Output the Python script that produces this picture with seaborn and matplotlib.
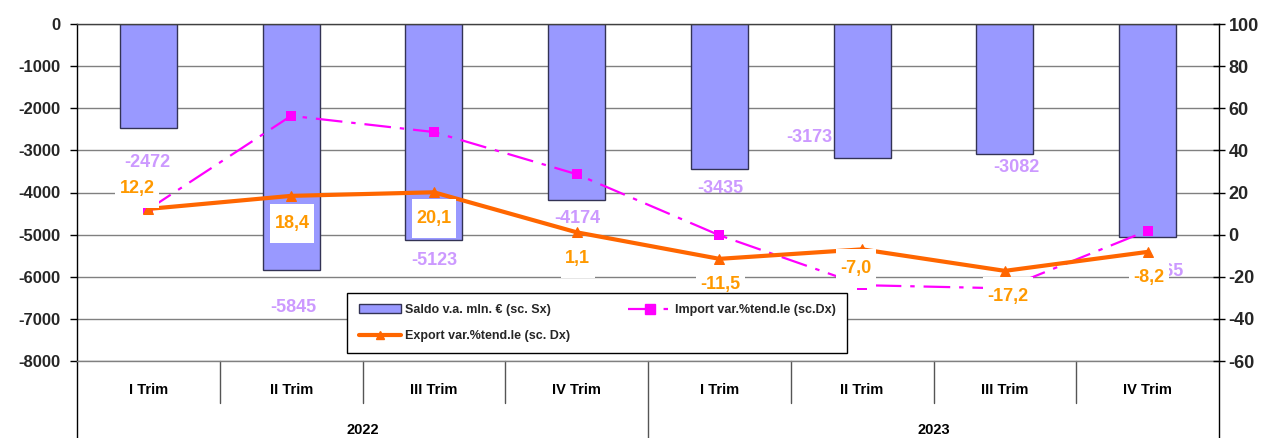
import numpy as np
import pandas as pd
import matplotlib
matplotlib.use("Agg")
import matplotlib.pyplot as plt
import seaborn as sns
from matplotlib.lines import Line2D
from matplotlib.patches import Patch
from matplotlib.path import Path

# ---------------- data ----------------
years = ["2022", "2023"]
quarters = ["I Trim", "II Trim", "III Trim", "IV Trim"]
categories = [f"{y} {q}" for y in years for q in quarters]
saldo = [-2472, -5845, -5123, -4174, -3435, -3173, -3082, -5065]
import_var = [12.0, 56.4, 48.7, 28.7, -0.3, -24.0, -25.5, 1.9]
export_var = [12.2, 18.4, 20.1, 1.1, -11.5, -7.0, -17.2, -8.2]
left_ticks = list(range(0, -8001, -1000))
right_ticks = list(range(100, -61, -20))
legend_labels = ["Saldo v.a. mln. € (sc. Sx)", "Export var.%tend.le (sc. Dx)",
                 "Import var.%tend.le (sc.Dx)"]

# label offsets (pixels: dx right, dy down) -- placement only
saldo_off = [(-1, 34.5), (2, 37), (0, 20.5), (1, 19), (1, 20), (-53, -20), (11, 14), (13, 34)]
export_off = [(-11, -20.5), (1, 27.5), (0, 26), (1, 26), (1, 26), (-6, 19), (3, 26), (1, 26)]

BAR = "#9999FF"
BAR_EDGE = "#333355"
IMP = "#FF00FF"
EXP = "#FF6600"
EXP_LBL = "#FF9900"
SAL_LBL = "#CC99FF"
GRID = "#808080"

sns.set_theme(style="white")
plt.rcParams["font.family"] = ["Liberation Sans", "DejaVu Sans"]
plt.rcParams["font.weight"] = "bold"

W, H = 1269, 438
fig = plt.figure(figsize=(W / 100, H / 100), dpi=100)
L, R, T, B = 77, 1219, 24, 361
ax = fig.add_axes([L / W, (H - B) / H, (R - L) / W, (B - T) / H])

df = pd.DataFrame({"cat": categories, "saldo": saldo})
sns.barplot(data=df, x="cat", y="saldo", order=categories, ax=ax, color=BAR,
            saturation=1, width=0.4, edgecolor=BAR_EDGE, linewidth=1.0, zorder=2)
ax.set_ylim(-8000, 0)
ax.set_xlim(-0.5, len(categories) - 0.5)
ax.set_yticks(left_ticks)
ax.set_yticklabels([str(t) for t in left_ticks], fontsize=12, fontweight="bold")
ax.set_xticks([])
ax.set_xlabel("")
ax.set_ylabel("")
for t in left_ticks:
    ax.axhline(t, color=GRID, lw=1.0, zorder=0)
ax.tick_params(axis="y", direction="out", length=5, width=1, color="black", pad=7,
               left=True)
ax.spines["top"].set_color("#404040")
ax.spines["bottom"].set_color(GRID)
for s in ["left", "right"]:
    ax.spines[s].set_color("black")
for s in ax.spines.values():
    s.set_linewidth(1.0)

ax2 = ax.twinx()
ax2.set_ylim(-60, 100)
ax2.set_yticks(right_ticks)
ax2.set_yticklabels([str(t) for t in right_ticks], fontsize=13, fontweight="bold")
ax2.tick_params(axis="y", direction="inout", length=8, width=1, color="black", pad=3)
for s in ax2.spines.values():
    s.set_visible(False)

pos = np.arange(len(categories))
DASH = (0, (12, 4, 2, 4))

sns.lineplot(x=pos, y=import_var, ax=ax2, sort=False, estimator=None, color=IMP,
             lw=1.6, linestyle=DASH, zorder=3)
sns.scatterplot(x=pos, y=import_var, ax=ax2, marker="s", s=60, color=IMP,
                edgecolor=IMP, linewidth=0, zorder=4)
sns.lineplot(x=pos, y=export_var, ax=ax2, sort=False, estimator=None, color=EXP,
             lw=3, marker="^", markersize=6.5, markeredgecolor=EXP, markerfacecolor=EXP,
             zorder=5)
ax2.set_xlim(-0.5, len(categories) - 0.5)
ax2.set_xticks([])
ax2.set_ylabel("")

# label boxes: taller than wide padding
def tallbox(x0, y0, width, height, mutation_size):
    px = 0.25 * mutation_size
    py = 0.62 * mutation_size
    x0, y0 = x0 - px, y0 - py
    x1, y1 = x0 + width + 2 * px, y0 + height + 2 * py
    return Path([(x0, y0), (x1, y0), (x1, y1), (x0, y1), (x0, y0)],
                [Path.MOVETO, Path.LINETO, Path.LINETO, Path.LINETO, Path.CLOSEPOLY])

k = 72 / 100.0
for i, v in enumerate(saldo):
    dx, dy = saldo_off[i]
    ax2.annotate(str(v), xy=(i, v), xycoords=ax.transData, xytext=(dx * k, -dy * k),
                 textcoords="offset points", ha="center", va="center", fontsize=13,
                 fontweight="bold", color=SAL_LBL, zorder=8, annotation_clip=False)
for i, v in enumerate(export_var):
    dx, dy = export_off[i]
    ax2.annotate(f"{v:.1f}".replace(".", ","), xy=(i, v), xytext=(dx * k, -dy * k),
                 textcoords="offset points", ha="center", va="center", fontsize=13,
                 fontweight="bold", color=EXP_LBL, zorder=9,
                 bbox=dict(boxstyle=tallbox, facecolor="white", edgecolor="none"))

# category axis (two levels)
trans = ax.get_xaxis_transform()
lvl1 = (B - 403) / (B - T)
lvl2 = (B - H) / (B - T)
for i in range(len(categories)):
    ax.text(i, (B - 390) / (B - T), quarters[i % 4], transform=trans, ha="center",
            va="center", fontsize=10.5, fontweight="bold", color="black")
for j, y in enumerate(years):
    ax.text(j * 4 + 1.5, (B - 430) / (B - T), y, transform=trans, ha="center",
            va="center", fontsize=10.5, fontweight="bold", color="black")
for i in range(len(categories) + 1):
    xb = i - 0.5
    if i % 4 == 0:
        col = "black" if i in (0, len(categories)) else "#555555"
        ax.plot([xb, xb], [0, lvl2], transform=trans, color=col, lw=1.0, clip_on=False)
    else:
        ax.plot([xb, xb], [0, lvl1], transform=trans, color="#555555", lw=1.0,
                clip_on=False)

# legend
handles = [
    Patch(facecolor=BAR, edgecolor=BAR_EDGE, linewidth=1.0),
    Line2D([0], [0], color=EXP, lw=3, marker="^", markersize=6),
    Line2D([0], [0], color=IMP, lw=1.6, linestyle=DASH, marker="s", markersize=7),
]
leg = ax2.legend(handles, legend_labels, ncol=2, loc="center", mode="expand",
                 bbox_to_anchor=(341 / W, (H - 354) / H, 512 / W, 62 / H),
                 bbox_transform=fig.transFigure,
                 prop={"size": 9, "weight": "bold"}, frameon=True, fancybox=False,
                 edgecolor="black", facecolor="white", framealpha=1, handlelength=3.4,
                 handletextpad=0.3, columnspacing=2.6, labelspacing=1.1, borderpad=0.9)
leg.get_frame().set_linewidth(1.0)
leg.set_zorder(10)

fig.savefig("out.png", dpi=100)
